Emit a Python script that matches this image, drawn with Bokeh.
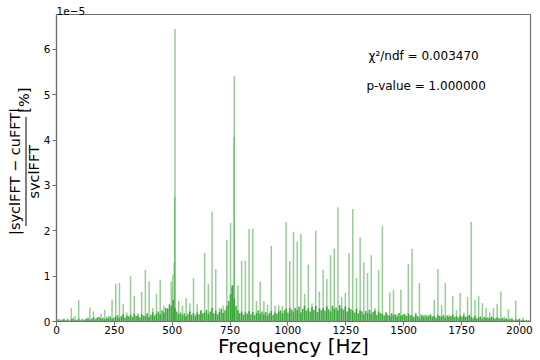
import numpy as np
from bokeh.plotting import figure
from bokeh.layouts import row
from bokeh.models import Label, Range1d, FixedTicker
from bokeh.core.properties import value
from bokeh.embed import file_html
from bokeh.resources import INLINE

# ---- data (values in units of 1e-5 %) ----
# strong lines sit on the 16 Hz grid: one value per 16 Hz bin (0 ... 2032 Hz)
spike_step_hz = 16
spike_val = [
    0.04, 0.05, 0.04, 0.07, 0.30, 0.12, 0.48, 0.06,
    0.07, 0.31, 0.22, 0.10, 0.17, 0.26, 0.12, 0.48,
    0.83, 0.85, 0.39, 0.20, 1.00, 0.57, 0.18, 0.65,
    1.14, 0.89, 0.30, 0.61, 0.92, 0.35, 0.30, 0.88,
    6.45, 0.46, 0.35, 0.52, 0.40, 0.96, 0.38, 0.25,
    1.51, 0.83, 2.42, 1.16, 0.30, 0.35, 1.80, 2.17,
    5.41, 0.80, 1.34, 1.34, 2.04, 2.05, 0.45, 0.88,
    0.45, 0.37, 1.67, 0.35, 0.36, 0.34, 2.20, 1.33,
    1.98, 1.76, 1.93, 0.61, 1.25, 0.40, 2.00, 0.66,
    1.14, 0.94, 1.46, 1.61, 2.52, 0.54, 0.63, 1.51,
    2.48, 0.96, 1.85, 1.30, 1.07, 1.46, 0.30, 1.13,
    2.10, 0.20, 0.64, 0.70, 0.15, 0.70, 0.15, 1.27,
    1.60, 0.20, 0.85, 0.15, 0.15, 0.12, 0.48, 1.16,
    0.36, 0.85, 0.15, 0.57, 0.25, 0.63, 0.20, 0.54,
    2.20, 0.48, 0.56, 0.40, 0.30, 0.20, 0.30, 0.39,
    0.66, 0.10, 0.27, 0.08, 0.46, 0.05, 0.08, 0.04,
]
# neighbouring bins of the two largest lines
extra_freq = [502, 508, 511, 757, 763, 767]
extra_val = [1.03, 1.29, 2.75, 0.75, 0.80, 4.07]

# low-level "grass": one value per 8 Hz, in units of 0.01e-5
grass_step_hz = 8
grass_hundredths = [
    3, 5, 2, 4, 6, 3, 4, 2, 5, 7, 3, 4, 6, 3, 5, 4,
    5, 8, 4, 6, 9, 5, 7, 10, 6, 8, 5, 9, 7, 11, 6, 9,
    10, 14, 8, 12, 16, 9, 13, 11, 15, 10, 17, 12, 14, 9, 16, 13,
    12, 18, 10, 15, 20, 13, 17, 22, 16, 25, 20, 30, 28, 38, 35, 48,
    30, 22, 16, 20, 14, 18, 12, 17, 22, 15, 19, 13, 20, 16, 24, 18,
    20, 26, 17, 22, 30, 18, 24, 16, 21, 28, 19, 25, 35, 45, 60, 80,
    50, 35, 24, 18, 22, 15, 20, 17, 23, 16, 21, 14, 19, 24, 17, 22,
    16, 21, 14, 19, 23, 15, 20, 17, 22, 25, 18, 24, 28, 20, 30, 26,
    22, 30, 25, 33, 20, 28, 35, 24, 30, 22, 32, 26, 34, 21, 29, 25,
    30, 24, 33, 27, 22, 35, 28, 31, 24, 36, 29, 26, 33, 22, 30, 27,
    24, 20, 28, 18, 25, 22, 16, 23, 19, 26, 17, 21, 24, 15, 22, 18,
    17, 13, 20, 15, 12, 18, 14, 16, 11, 19, 13, 15, 17, 12, 18, 14,
    13, 10, 16, 12, 9, 15, 11, 14, 10, 13, 16, 11, 12, 9, 15, 12,
    11, 14, 9, 13, 10, 12, 15, 10, 12, 9, 13, 11, 14, 10, 12, 15,
    10, 8, 12, 7, 9, 11, 6, 10, 8, 9, 7, 11, 8, 6, 9, 7,
    6, 8, 5, 7, 4, 6, 5, 3, 5, 4, 6, 3, 4, 3, 2, 3,
]

x_ticks = [0, 250, 500, 750, 1000, 1250, 1500, 1750, 2000]
y_ticks = [0, 1, 2, 3, 4, 5, 6]
x_label = "Frequency [Hz]"
y_num = "|syclFFT \u2212 cuFFT|"
y_den = "syclFFT"
y_unit = "[%]"
offset_text = "1e\u22125"
chi2_text = "\u03c7\u00b2/ndf = 0.003470"
pval_text = "p-value = 1.000000"

spike_freq = np.arange(len(spike_val)) * spike_step_hz
grass_freq = np.arange(len(grass_hundredths)) * grass_step_hz
grass_val = np.array(grass_hundredths) / 100.0

GREEN = "#2ca02c"
FRAME = "#707070"
FONT = "DejaVu Sans"

# ---- main plot ----
p = figure(width=500, height=360, output_backend="svg", toolbar_location=None,
           x_range=Range1d(0, 2048), y_range=Range1d(0, 6.769),
           min_border_left=15, min_border_right=10, min_border_top=14,
           min_border_bottom=38, background_fill_color="white",
           border_fill_color="white")

p.title.text = offset_text
p.title.align = "left"
p.title.text_font = FONT
p.title.text_font_size = "10.5px"
p.title.text_font_style = "normal"
p.title.text_color = "black"
p.title.standoff = 0
p.title.offset = 0

p.segment(x0=grass_freq, y0=0, x1=grass_freq, y1=grass_val,
          line_color=GREEN, line_alpha=0.85, line_width=1.6)
p.segment(x0=spike_freq, y0=0, x1=spike_freq, y1=spike_val,
          line_color=GREEN, line_alpha=0.5, line_width=1.5)
p.segment(x0=extra_freq, y0=0, x1=extra_freq, y1=extra_val,
          line_color=GREEN, line_alpha=0.5, line_width=1.2)

p.grid.visible = False
p.outline_line_color = FRAME
p.outline_line_width = 1.2
p.xaxis.ticker = FixedTicker(ticks=x_ticks)
p.yaxis.ticker = FixedTicker(ticks=y_ticks)
for ax in (p.xaxis[0], p.yaxis[0]):
    ax.axis_line_color = FRAME
    ax.axis_line_width = 1.2
    ax.major_tick_line_color = FRAME
    ax.major_tick_out = 4
    ax.major_tick_in = 0
    ax.minor_tick_line_color = None
    ax.major_label_text_font = FONT
    ax.major_label_text_font_size = "10.5px"
    ax.major_label_text_color = "black"
p.xaxis.major_label_standoff = 0
p.yaxis.major_label_standoff = 2
p.xaxis.axis_label = x_label
p.xaxis.axis_label_text_font = FONT
p.xaxis.axis_label_text_font_size = "20px"
p.xaxis.axis_label_text_font_style = "normal"
p.xaxis.axis_label_text_color = "black"
p.xaxis.axis_label_standoff = -3


def lab(text, x, y, size):
    p.add_layout(Label(x=x, y=y, x_units="screen", y_units="screen", text=text,
                       text_font=FONT, text_font_size=size, text_align="left",
                       text_baseline="alphabetic", text_color="black"))


lab(chi2_text, 312, 266, "12px")
lab(pval_text, 310, 235.3, "12px")

# ---- y-axis label panel (rotated fraction) ----
q = figure(width=40, height=360, output_backend="svg", toolbar_location=None,
           x_range=Range1d(0, 40), y_range=Range1d(0, 360),
           x_axis_location=None, y_axis_location=None, min_border=0,
           outline_line_color=None, background_fill_color="white",
           border_fill_color="white")
q.grid.visible = False
txt_kw = dict(angle=np.pi / 2, text_align="center", text_baseline="middle",
              text_font=value(FONT), text_font_size=value("14.5px"),
              text_color="black")
q.text(x=[14.5], y=[360 - 184], text=[y_num], **txt_kw)
q.text(x=[33], y=[360 - 184.5], text=[y_den], **txt_kw)
q.text(x=[23.5], y=[360 - 100.5], text=[y_unit], **txt_kw)
q.segment(x0=[25.5], y0=[360 - 248], x1=[25.5], y1=[360 - 120],
          line_color="black", line_width=1)

layout = row(q, p)
open("out.html", "w").write(file_html(layout, INLINE))
